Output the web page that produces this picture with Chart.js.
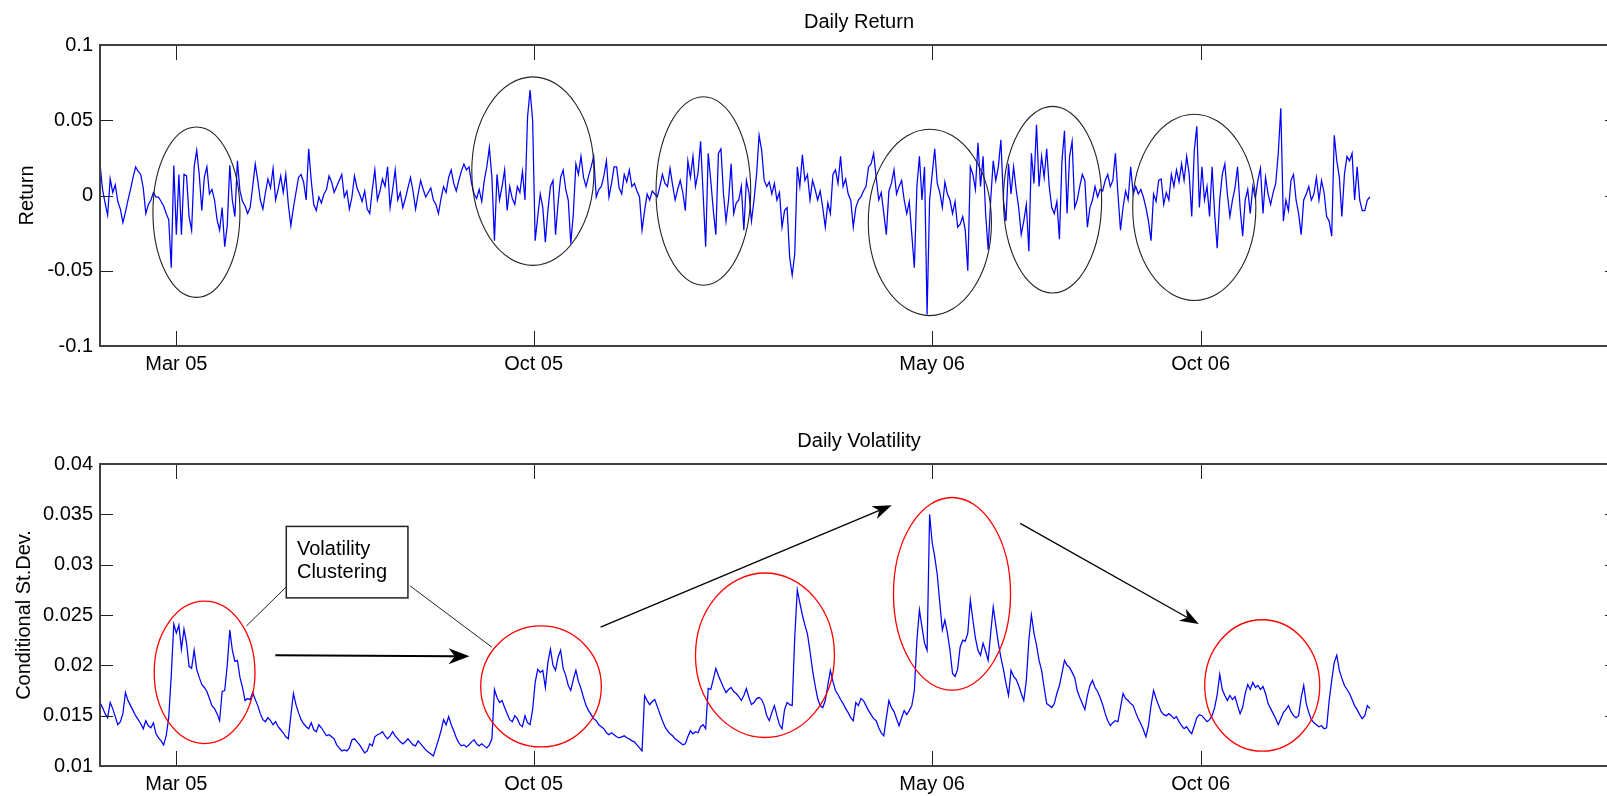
<!DOCTYPE html>
<html><head><meta charset="utf-8">
<script src="https://cdn.jsdelivr.net/npm/chart.js@4.4.1/dist/chart.umd.min.js"></script>
<style>
html,body{margin:0;padding:0;background:#fff;overflow:hidden;width:1607px;height:796px;}
#wrap{position:relative;width:1625px;height:796px;}
.pane{position:absolute;left:0;width:1625px;height:398px;}
</style></head><body>
<div id="wrap">
<div class="pane" style="top:0"><canvas id="c1" width="1625" height="398"></canvas></div>
<div class="pane" style="top:398px"><canvas id="c2" width="1625" height="398"></canvas></div>
</div>
<script>
// ---- data (trading-day index -> value) ----
const returns = [
0.021,0.004,-0.005,-0.013,0.011,0.002,0.007,-0.004,-0.009,-0.018,
-0.011,-0.003,0.004,0.012,0.019,0.016,0.014,0.005,-0.012,-0.006,
-0.003,0.002,-0.001,-0.001,-0.004,-0.007,-0.012,-0.016,-0.048,0.020,
-0.026,0.014,-0.026,0.014,0.013,-0.014,-0.023,0.019,0.030,0.014,
-0.010,0.012,0.019,0.001,0.004,-0.003,-0.016,-0.023,-0.008,-0.034,
-0.020,0.020,-0.003,-0.014,0.023,0.003,-0.004,-0.007,-0.012,-0.008,
0.006,0.021,0.010,-0.003,-0.009,0.002,0.011,0.005,0.018,-0.003,
0.004,0.013,0.002,0.014,-0.006,-0.020,-0.008,0.002,0.012,0.014,
0.009,-0.003,0.031,0.010,-0.006,-0.010,-0.001,-0.005,0.001,0.004,
0.013,0.009,0.002,0.006,0.010,0.014,-0.001,0.003,-0.009,-0.001,
0.013,0.005,0.001,-0.004,0.003,-0.009,-0.012,0.004,0.017,-0.003,
0.003,0.011,0.006,0.019,-0.008,0.004,0.017,-0.003,0.002,-0.008,
-0.002,0.005,0.012,0.003,-0.009,0.001,0.010,0.004,-0.001,0.002,
0.005,-0.003,-0.006,-0.012,-0.002,0.006,0.002,0.012,0.017,0.008,
0.003,0.010,0.016,0.021,0.017,0.019,0.008,0.001,-0.002,0.004,
-0.004,0.010,0.019,0.032,0.012,-0.030,0.014,-0.003,0.006,0.017,
-0.010,0.006,-0.002,-0.006,0.006,0.002,0.016,-0.003,0.052,0.070,
0.050,-0.030,-0.014,0.001,-0.008,-0.031,-0.010,0.006,0.010,-0.026,
-0.005,0.012,0.017,0.004,-0.003,-0.032,-0.012,0.021,0.014,0.026,
0.012,0.006,0.013,0.019,0.026,-0.001,0.004,0.006,0.013,0.023,
-0.001,0.008,0.019,0.019,0.005,0.001,0.014,0.009,0.017,0.006,
0.008,0.003,-0.001,-0.023,-0.010,0.001,-0.003,0.003,0.001,-0.001,
0.006,0.014,0.008,0.006,0.018,0.007,-0.003,0.004,0.010,0.002,
-0.010,0.023,0.012,0.026,0.006,0.015,0.036,0.001,-0.034,0.028,
0.010,-0.010,-0.026,0.028,0.031,0.001,-0.017,-0.003,0.021,-0.012,
-0.005,-0.003,0.006,-0.023,0.010,0.002,-0.017,-0.003,0.014,0.040,
0.030,0.010,0.006,0.009,0.001,0.008,-0.003,0.002,-0.021,-0.010,
-0.008,-0.041,-0.053,-0.039,0.019,0.006,0.027,0.010,0.014,-0.003,
0.010,0.004,-0.003,0.003,-0.008,-0.021,-0.005,-0.012,0.014,0.017,
0.008,0.026,0.006,0.011,0.001,-0.003,-0.021,-0.008,-0.003,-0.001,
0.003,0.006,0.019,0.021,0.028,0.012,-0.003,0.002,-0.012,-0.026,
0.003,0.008,0.017,0.001,0.006,0.010,-0.003,-0.012,-0.004,-0.026,
-0.048,0.006,0.026,-0.003,0.019,-0.079,-0.003,0.014,0.031,0.008,
0.002,-0.008,0.009,0.001,-0.003,-0.012,-0.004,-0.021,-0.019,-0.014,
-0.023,-0.050,0.019,0.014,0.004,0.035,0.006,0.026,-0.012,-0.036,
-0.003,0.023,0.010,0.019,0.037,-0.003,-0.017,0.021,0.001,0.019,
0.004,-0.008,-0.026,-0.017,-0.006,-0.037,0.028,0.008,0.047,0.006,
0.026,0.012,0.031,0.006,-0.008,-0.012,-0.004,-0.029,0.023,0.043,
-0.012,0.026,0.036,-0.008,-0.003,0.006,0.014,0.010,-0.021,-0.008,
-0.003,0.006,-0.001,0.004,0.003,0.010,0.014,0.006,0.010,0.028,
0.001,-0.023,-0.008,0.003,-0.003,0.019,0.001,0.006,0.001,0.004,
-0.001,-0.008,-0.017,-0.030,0.001,-0.004,0.010,0.011,-0.006,0.002,
-0.003,0.014,0.006,0.017,0.009,0.021,0.010,0.026,0.014,-0.014,
0.030,0.046,-0.008,0.019,-0.003,0.006,-0.014,0.019,-0.012,-0.035,
-0.003,0.014,0.021,0.001,-0.014,-0.003,0.005,0.019,-0.008,-0.027,
-0.003,0.004,-0.012,0.006,-0.002,0.010,0.018,-0.012,0.012,0.001,
-0.006,0.002,0.008,0.028,0.058,-0.017,-0.003,-0.010,0.010,0.014,
-0.003,-0.012,-0.026,-0.003,0.001,0.006,-0.003,0.001,0.012,-0.003,
0.010,0.002,-0.014,-0.017,-0.027,0.040,0.023,0.012,-0.014,0.014,
0.026,0.023,0.028,-0.003,0.019,-0.003,-0.010,-0.010,-0.003,-0.001
];
const volatility = [
.0163,.0158,.0152,.0148,.0163,.0157,.0149,.0141,.0144,.0152,
.0173,.0165,.0160,.0155,.0150,.0146,.0142,.0137,.0145,.0140,
.0138,.0143,.0132,.0128,.0125,.0121,.0130,.0148,.0190,.0241,
.0232,.0240,.0216,.0236,.0222,.0199,.0197,.0215,.0196,.0188,
.0181,.0178,.0174,.0167,.0160,.0157,.0152,.0145,.0174,.0175,
.0200,.0235,.0215,.0204,.0205,.0188,.0178,.0165,.0167,.0166,
.0173,.0166,.0160,.0152,.0146,.0144,.0148,.0145,.0141,.0144,
.0139,.0136,.0133,.0129,.0127,.0150,.0172,.0161,.0153,.0146,
.0142,.0139,.0137,.0143,.0136,.0134,.0141,.0138,.0134,.0130,
.0131,.0129,.0127,.0121,.0118,.0115,.0116,.0115,.0118,.0126,
.0127,.0124,.0121,.0117,.0113,.0115,.0122,.0120,.0129,.0131,
.0132,.0134,.0130,.0127,.0130,.0134,.0130,.0127,.0124,.0122,
.0124,.0127,.0124,.0121,.0120,.0125,.0122,.0119,.0116,.0114,
.0112,.0110,.0118,.0126,.0135,.0146,.0141,.0149,.0141,.0135,
.0128,.0123,.0120,.0121,.0119,.0121,.0124,.0126,.0122,.0120,
.0122,.0120,.0118,.0121,.0127,.0176,.0168,.0163,.0165,.0158,
.0152,.0146,.0144,.0150,.0147,.0141,.0139,.0150,.0143,.0141,
.0156,.0183,.0196,.0193,.0195,.0178,.0203,.0216,.0200,.0195,
.0208,.0215,.0197,.0190,.0180,.0175,.0186,.0195,.0184,.0177,
.0168,.0160,.0155,.0151,.0147,.0145,.0141,.0139,.0137,.0133,
.0131,.0133,.0131,.0129,.0128,.0129,.0130,.0128,.0127,.0125,
.0124,.0121,.0118,.0115,.0170,.0165,.0161,.0164,.0166,.0159,
.0152,.0145,.0139,.0135,.0132,.0130,.0127,.0125,.0123,.0121,
.0122,.0129,.0135,.0132,.0134,.0133,.0139,.0141,.0137,.0177,
.0176,.0186,.0197,.0190,.0184,.0178,.0173,.0176,.0178,.0174,
.0172,.0169,.0165,.0170,.0177,.0168,.0161,.0163,.0167,.0168,
.0166,.0160,.0150,.0145,.0153,.0160,.0150,.0141,.0137,.0156,
.0163,.0161,.0160,.0228,.0275,.0262,.0250,.0240,.0231,.0214,
.0195,.0180,.0167,.0160,.0158,.0165,.0180,.0195,.0184,.0175,
.0171,.0166,.0162,.0157,.0153,.0148,.0145,.0163,.0160,.0167,
.0165,.0160,.0155,.0151,.0147,.0145,.0138,.0133,.0130,.0148,
.0165,.0158,.0154,.0147,.0140,.0148,.0155,.0151,.0155,.0160,
.0175,.0225,.0255,.0238,.0222,.0215,.0350,.0322,.0308,.0290,
.0262,.0235,.0245,.0232,.0215,.0192,.0189,.0196,.0218,.0225,
.0224,.0232,.0265,.0245,.0227,.0215,.0210,.0222,.0214,.0205,
.0232,.0258,.0240,.0222,.0208,.0196,.0182,.0170,.0195,.0189,
.0186,.0180,.0172,.0165,.0185,.0225,.0250,.0232,.0220,.0205,
.0195,.0178,.0162,.0160,.0158,.0162,.0172,.0180,.0192,.0205,
.0200,.0198,.0193,.0188,.0175,.0168,.0162,.0156,.0170,.0180,
.0185,.0178,.0174,.0168,.0161,.0152,.0145,.0140,.0143,.0145,
.0144,.0158,.0172,.0167,.0165,.0162,.0160,.0153,.0147,.0142,
.0136,.0129,.0140,.0160,.0175,.0167,.0160,.0154,.0151,.0150,
.0152,.0150,.0147,.0149,.0144,.0140,.0137,.0139,.0135,.0132,
.0140,.0148,.0151,.0150,.0147,.0144,.0146,.0150,.0158,.0171,
.0191,.0176,.0170,.0165,.0170,.0166,.0169,.0160,.0152,.0158,
.0172,.0181,.0176,.0183,.0178,.0180,.0176,.0179,.0172,.0162,
.0157,.0152,.0147,.0141,.0147,.0153,.0156,.0160,.0154,.0150,
.0148,.0150,.0168,.0180,.0162,.0153,.0146,.0143,.0141,.0139,
.0140,.0137,.0138,.0165,.0185,.0203,.0210,.0195,.0187,.0180,
.0176,.0172,.0166,.0160,.0156,.0151,.0147,.0150,.0160,.0157
];
const dateTickIndex = [30, 170.4, 327, 432.5];
const dateTickLabels = ['Mar 05', 'Oct 05', 'May 06', 'Oct 06'];
const xMaxIndex = 596.5;
const returnTicks = [-0.1, -0.05, 0, 0.05, 0.1];
const returnTickLabels = ['-0.1', '-0.05', '0', '0.05', '0.1'];
const volTicks = [0.01, 0.015, 0.02, 0.025, 0.03, 0.035, 0.04];
const volTickLabels = ['0.01', '0.015', '0.02', '0.025', '0.03', '0.035', '0.04'];

// ---- annotations (in data units: index, value) ----
const returnEllipses = [
  {cx:37.9, cy:-0.0111, rx:17.1, ry:0.0566},
  {cx:170.1, cy:0.0162, rx:24.0, ry:0.0626},
  {cx:237.1, cy:0.0030, rx:18.6, ry:0.0626},
  {cx:326.1, cy:-0.0179, rx:24.2, ry:0.0619},
  {cx:374.3, cy:-0.0028, rx:19.3, ry:0.0620},
  {cx:430.0, cy:-0.0079, rx:24.2, ry:0.0619}
];
const volEllipses = [
  {cx:41.1, cy:0.0193, rx:19.8, ry:0.00707},
  {cx:173.3, cy:0.0179, rx:23.7, ry:0.00601},
  {cx:261.3, cy:0.0210, rx:27.3, ry:0.00817},
  {cx:334.8, cy:0.0271, rx:23.0, ry:0.00957},
  {cx:456.7, cy:0.0180, rx:22.6, ry:0.00653}
];
const volArrows = [
  {x1:68.9, y1:0.0210, x2:145.2, y2:0.0209, w:2, L:21, W:8},
  {x1:196.7, y1:0.0238, x2:311.1, y2:0.0359, w:1.3, L:19, W:7},
  {x1:361.6, y1:0.0341, x2:431.8, y2:0.0241, w:1.3, L:19, W:7}
];
const noteBox = {x1:73.2, y1:0.0338, x2:121.0, y2:0.0267, tx:77.4, lines:['Volatility','Clustering'], ty:[0.03096, 0.02871]};
const noteLines = [
  {x1:73.2, y1:0.0278, x2:57.5, y2:0.0239},
  {x1:121.8, y1:0.0279, x2:154.0, y2:0.0218}
];

const FONT = "'Liberation Sans', Arial, sans-serif";
const FS = 20;

const panelPlugin = {
  id: 'panel',
  afterDatasetsDraw(chart, args, o) {
    const ctx = chart.ctx, xs = chart.scales.x, ys = chart.scales.y;
    const px = v => xs.getPixelForValue(v), py = v => ys.getPixelForValue(v);
    ctx.save();
    (o.ellipses || []).forEach(e => {
      const cx = px(e.cx), cy = py(e.cy);
      const rx = Math.abs(px(e.cx + e.rx) - cx), ry = Math.abs(py(e.cy + e.ry) - cy);
      ctx.beginPath();
      ctx.ellipse(cx, cy, rx, ry, 0, 0, Math.PI * 2);
      ctx.strokeStyle = o.ellipseColor; ctx.lineWidth = o.ellipseWidth;
      ctx.stroke();
    });
    (o.lines || []).forEach(l => {
      ctx.beginPath(); ctx.moveTo(px(l.x1), py(l.y1)); ctx.lineTo(px(l.x2), py(l.y2));
      ctx.strokeStyle = '#222'; ctx.lineWidth = 1; ctx.stroke();
    });
    (o.arrows || []).forEach(a => {
      const x1 = px(a.x1), y1 = py(a.y1), x2 = px(a.x2), y2 = py(a.y2);
      const dx = x2 - x1, dy = y2 - y1, d = Math.hypot(dx, dy), ux = dx / d, uy = dy / d, nx = -uy, ny = ux;
      ctx.beginPath(); ctx.moveTo(x1, y1); ctx.lineTo(x2 - 0.7 * a.L * ux, y2 - 0.7 * a.L * uy);
      ctx.strokeStyle = '#000'; ctx.lineWidth = a.w; ctx.stroke();
      ctx.beginPath();
      ctx.moveTo(x2, y2);
      ctx.lineTo(x2 - a.L * ux + a.W * nx, y2 - a.L * uy + a.W * ny);
      ctx.lineTo(x2 - 0.7 * a.L * ux, y2 - 0.7 * a.L * uy);
      ctx.lineTo(x2 - a.L * ux - a.W * nx, y2 - a.L * uy - a.W * ny);
      ctx.closePath(); ctx.fillStyle = '#000'; ctx.fill();
    });
    if (o.box) {
      const b = o.box;
      const x1 = px(b.x1), y1 = py(b.y1), x2 = px(b.x2), y2 = py(b.y2);
      ctx.fillStyle = '#fff'; ctx.fillRect(x1, y1, x2 - x1, y2 - y1);
      ctx.strokeStyle = '#222'; ctx.lineWidth = 1.5; ctx.strokeRect(x1, y1, x2 - x1, y2 - y1);
      ctx.fillStyle = '#000'; ctx.font = FS + 'px ' + FONT; ctx.textAlign = 'left'; ctx.textBaseline = 'alphabetic';
      b.lines.forEach((t, i) => ctx.fillText(t, px(b.tx), py(b.ty[i])));
    }
    ctx.restore();
  },
  afterDraw(chart, args, o) {
    const ctx = chart.ctx, a = chart.chartArea, xs = chart.scales.x, ys = chart.scales.y;
    ctx.save();
    // inward ticks
    ctx.strokeStyle = '#222'; ctx.lineWidth = 1;
    ctx.beginPath();
    xs.ticks.forEach(t => {
      const x = Math.round(xs.getPixelForValue(t.value)) + 0.5;
      ctx.moveTo(x, a.top); ctx.lineTo(x, a.top + 15);
      ctx.moveTo(x, a.bottom); ctx.lineTo(x, a.bottom - 15);
    });
    ys.ticks.forEach(t => {
      const y = Math.round(ys.getPixelForValue(t.value)) + 0.5;
      ctx.moveTo(a.left, y); ctx.lineTo(a.left + 13, y);
      ctx.moveTo(a.right, y); ctx.lineTo(a.right - 13, y);
    });
    ctx.stroke();
    // axes box
    ctx.strokeStyle = '#404040'; ctx.lineWidth = 2;
    ctx.strokeRect(a.left, a.top, a.right - a.left, a.bottom - a.top);
    // title
    ctx.fillStyle = '#000'; ctx.font = FS + 'px ' + FONT;
    ctx.textAlign = 'center'; ctx.textBaseline = 'alphabetic';
    ctx.fillText(o.title, (a.left + a.right) / 2, o.titleY);
    // y title
    ctx.translate(o.yTitleX, (a.top + a.bottom) / 2);
    ctx.rotate(-Math.PI / 2);
    ctx.fillText(o.yTitle, 0, 0);
    ctx.restore();
  }
};

function makeChart(id, values, yMin, yMax, yTicks, yLabels, padTop, xAxisH, xPad, panelOpts) {
  return new Chart(document.getElementById(id), {
    type: 'line',
    data: { datasets: [{
      data: values.map((v, i) => ({ x: i, y: v })),
      borderColor: '#0000ff', borderWidth: 1.25, pointRadius: 0, tension: 0, fill: false
    }] },
    options: {
      responsive: false, animation: false, devicePixelRatio: 1, events: [],
      layout: { padding: { top: padTop, right: 7, left: 0, bottom: 0 } },
      plugins: { legend: { display: false }, tooltip: { enabled: false }, title: { display: false }, panel: panelOpts },
      scales: {
        x: {
          type: 'linear', min: 0, max: xMaxIndex,
          grid: { display: false, drawTicks: false }, border: { display: false },
          afterBuildTicks: s => { s.ticks = dateTickIndex.map(v => ({ value: v })); },
          afterFit: s => { s.height = xAxisH; },
          ticks: { autoSkip: false, maxRotation: 0, padding: xPad, color: '#000',
                   font: { family: FONT, size: FS }, callback: (v, i) => dateTickLabels[i] }
        },
        y: {
          min: yMin, max: yMax,
          grid: { display: false, drawTicks: false }, border: { display: false },
          afterBuildTicks: s => { s.ticks = yTicks.map(v => ({ value: v })); },
          afterFit: s => { s.width = 100; },
          ticks: { padding: 7, color: '#000', font: { family: FONT, size: FS }, callback: (v, i) => yLabels[i] }
        }
      }
    },
    plugins: [panelPlugin]
  });
}

makeChart('c1', returns, -0.1, 0.1, returnTicks, returnTickLabels, 45, 52, 6, {
  title: 'Daily Return', titleY: 28, yTitle: 'Return', yTitleX: 33,
  ellipses: returnEllipses, ellipseColor: '#222', ellipseWidth: 1.1
});
makeChart('c2', volatility, 0.01, 0.04, volTicks, volTickLabels, 66, 30, 6, {
  title: 'Daily Volatility', titleY: 49, yTitle: 'Conditional St.Dev.', yTitleX: 30,
  ellipses: volEllipses, ellipseColor: '#ff0000', ellipseWidth: 1.3,
  arrows: volArrows, box: noteBox, lines: noteLines
});
</script>
</body></html>
